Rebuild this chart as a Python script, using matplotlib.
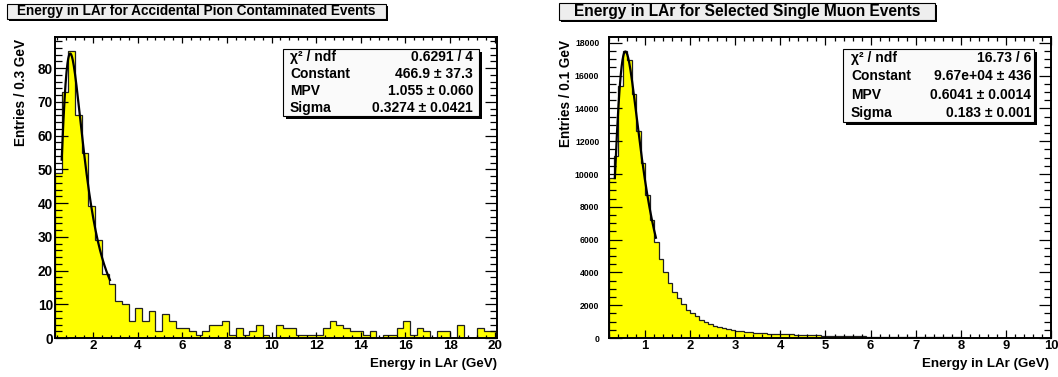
import numpy as np
import matplotlib
matplotlib.use("Agg")
import matplotlib.pyplot as plt
from matplotlib.patches import Rectangle
from matplotlib.ticker import MultipleLocator

plt.rcParams['font.family'] = ['Liberation Sans', 'DejaVu Sans']
plt.rcParams['font.weight'] = 'bold'

# ---------------- data ----------------
left_title = "Energy in LAr for Accidental Pion Contaminated Events"
right_title = "Energy in LAr for Selected Single Muon Events"
left_ylabel = "Entries / 0.3 GeV"
right_ylabel = "Entries / 0.1 GeV"
xlabel = "Energy in LAr (GeV)"

left_range = [0.3, 20.1]
left_counts = [49, 73, 85, 66, 55, 39, 29, 19, 16, 11, 10, 5, 9, 5, 8, 2, 7, 5, 3, 3,
               2, 1, 2, 4, 4, 5, 1, 3, 1, 2, 4, 1, 0, 4, 3, 3, 1, 1, 1, 1,
               3, 5, 4, 3, 2, 2, 1, 2, 0, 1, 1, 3, 5, 1, 3, 2, 0, 2, 2, 0,
               4, 0, 0, 3, 2, 2]

right_range = [0.2, 10.0]
right_counts = [9750, 11100, 15370, 17480, 16960, 14900, 12600, 10680, 8735, 7170,
                5840, 4830, 4050, 3340, 2790, 2420, 2077, 1700, 1520, 1315,
                1110, 950, 870, 755, 700, 630, 570, 510, 450, 400,
                366, 340, 326, 300, 285, 270, 255, 245, 235, 224,
                215, 205, 195, 185, 178, 170, 160, 150, 140, 135,
                128, 120, 115, 110, 104, 98, 92, 88, 84, 80,
                75, 72, 68, 65, 62, 58, 55, 52, 50, 48,
                45, 43, 41, 39, 37, 35, 33, 32, 30, 29,
                28, 26, 25, 24, 23, 22, 21, 20, 19, 18,
                18, 17, 16, 16, 15, 14, 14, 13]

# Landau fit parameters (constant, MPV, sigma) and fit ranges
left_fit = [466.9, 1.055, 0.3274]
left_fit_range = [0.6, 2.76]
right_fit = [9.67e4, 0.6041, 0.183]
right_fit_range = [0.33, 1.24]

left_stats = [("χ² / ndf", "0.6291 / 4"), ("Constant", "466.9 ± 37.3"),
              ("MPV", "1.055 ± 0.060"), ("Sigma", "0.3274 ± 0.0421")]
right_stats = [("χ² / ndf", "16.73 / 6"), ("Constant", "9.67e+04 ± 436"),
               ("MPV", "0.6041 ± 0.0014"), ("Sigma", "0.183 ± 0.001")]

# ---------------- helpers ----------------
W, H = 1058, 377
fig = plt.figure(figsize=(W / 100, H / 100), dpi=100)


def fx(px):
    return px / W


def fy(py):
    return 1 - py / H


def landau_density(lam):
    t = np.linspace(1e-9, 30, 30001)
    lam = np.atleast_1d(lam)[:, None]
    integrand = np.exp(-t * np.log(t) - lam * t) * np.sin(np.pi * t)
    return np.trapezoid(integrand, t, axis=1) / np.pi


def pix_rect(x0, y0, x1, y1, **kw):
    r = Rectangle((fx(x0), fy(y1)), fx(x1) - fx(x0), fy(y0) - fy(y1),
                  transform=fig.transFigure, **kw)
    fig.add_artist(r)


def panel(ax_px, counts, rng, fit, fit_range, ymaj, ymin, xmaj, xmin,
          ylab_size, ylab_pad, xlab_size, xtick_len):
    x0, y0, x1, y1 = ax_px
    ax = fig.add_axes([fx(x0), fy(y1), fx(x1) - fx(x0), fy(y0) - fy(y1)])
    edges = np.linspace(rng[0], rng[1], len(counts) + 1)
    counts = np.asarray(counts, float)
    ax.stairs(counts, edges, fill=True, facecolor='#ffff00', edgecolor='none', baseline=0)
    ax.stairs(counts, edges, fill=False, color='#202020', lw=0.9, baseline=0)
    xs = np.linspace(fit_range[0], fit_range[1], 200)
    ys = fit[0] * landau_density((xs - fit[1]) / fit[2])
    ax.plot(xs, ys, color='black', lw=1.6)
    ax.set_xlim(rng[0], rng[1])
    ax.set_ylim(0, counts.max() * 1.05)
    ax.xaxis.set_major_locator(MultipleLocator(xmaj))
    ax.xaxis.set_minor_locator(MultipleLocator(xmin))
    ax.yaxis.set_major_locator(MultipleLocator(ymaj))
    ax.yaxis.set_minor_locator(MultipleLocator(ymin))
    for s in ax.spines.values():
        s.set_linewidth(1.4)
    ax.tick_params(axis='both', which='both', direction='in', top=True, right=True, width=0.9)
    ax.tick_params(axis='y', which='major', length=9, labelsize=ylab_size, pad=ylab_pad)
    ax.tick_params(axis='y', which='minor', length=4.8)
    ax.tick_params(axis='x', which='major', length=xtick_len, labelsize=xlab_size, pad=1.5)
    ax.tick_params(axis='x', which='minor', length=xtick_len / 2)
    for lab in ax.get_xticklabels() + ax.get_yticklabels():
        lab.set_fontweight('bold')
    return ax


def title_box(x0, y0, x1, y1, text, size):
    pix_rect(x0 + 2, y0 + 2, x1 + 2, y1 + 2, facecolor='black', edgecolor='none')
    pix_rect(x0, y0, x1, y1, facecolor='#eeeeee', edgecolor='black', lw=0.8)
    fig.text(fx((x0 + x1) / 2), fy((y0 + y1) / 2), text, ha='center', va='center',
             fontsize=size, fontweight='bold')


def stat_box(x0, y0, x1, y1, rows, lx, rx):
    pix_rect(x0 + 3, y0 + 3, x1 + 3, y1 + 3, facecolor='black', edgecolor='none')
    pix_rect(x0, y0, x1, y1, facecolor='#fafafa', edgecolor='black', lw=0.8)
    n = len(rows)
    h = (y1 - y0) / n
    for i, (lab, val) in enumerate(rows):
        yc = y0 + h * (i + 0.5)
        fig.text(fx(lx), fy(yc), lab, ha='left', va='center', fontsize=10, fontweight='bold')
        fig.text(fx(rx), fy(yc), val, ha='right', va='center', fontsize=10, fontweight='bold')


# ---------------- panels ----------------
axL = panel((55, 37, 497, 338), left_counts, left_range, left_fit, left_fit_range,
            10, 2, 2, 0.4, 9.8, 1.5, 9.6, 4.5)
axR = panel((609, 37, 1051, 338), right_counts, right_range, right_fit, right_fit_range,
            2000, 500, 1, 0.2, 6.2, 7, 9.4, 5.8)

title_box(7, 4, 386, 19, left_title, 9.8)
title_box(559, 3, 935, 20, right_title, 11.2)

stat_box(283, 49, 479, 116, left_stats, 290, 473)
stat_box(843, 49, 1034, 122, right_stats, 851, 1031)

fig.text(fx(21.5), fy(39), left_ylabel, rotation=90, ha='center', va='top',
         fontsize=9.8, fontweight='bold')
fig.text(fx(566), fy(40), right_ylabel, rotation=90, ha='center', va='top',
         fontsize=9.8, fontweight='bold')
fig.text(fx(497), fy(366.5), xlabel, ha='right', va='baseline', fontsize=9.6, fontweight='bold')
fig.text(fx(1049.5), fy(366.5), xlabel, ha='right', va='baseline', fontsize=9.6, fontweight='bold')

fig.savefig("out.png", dpi=100)
